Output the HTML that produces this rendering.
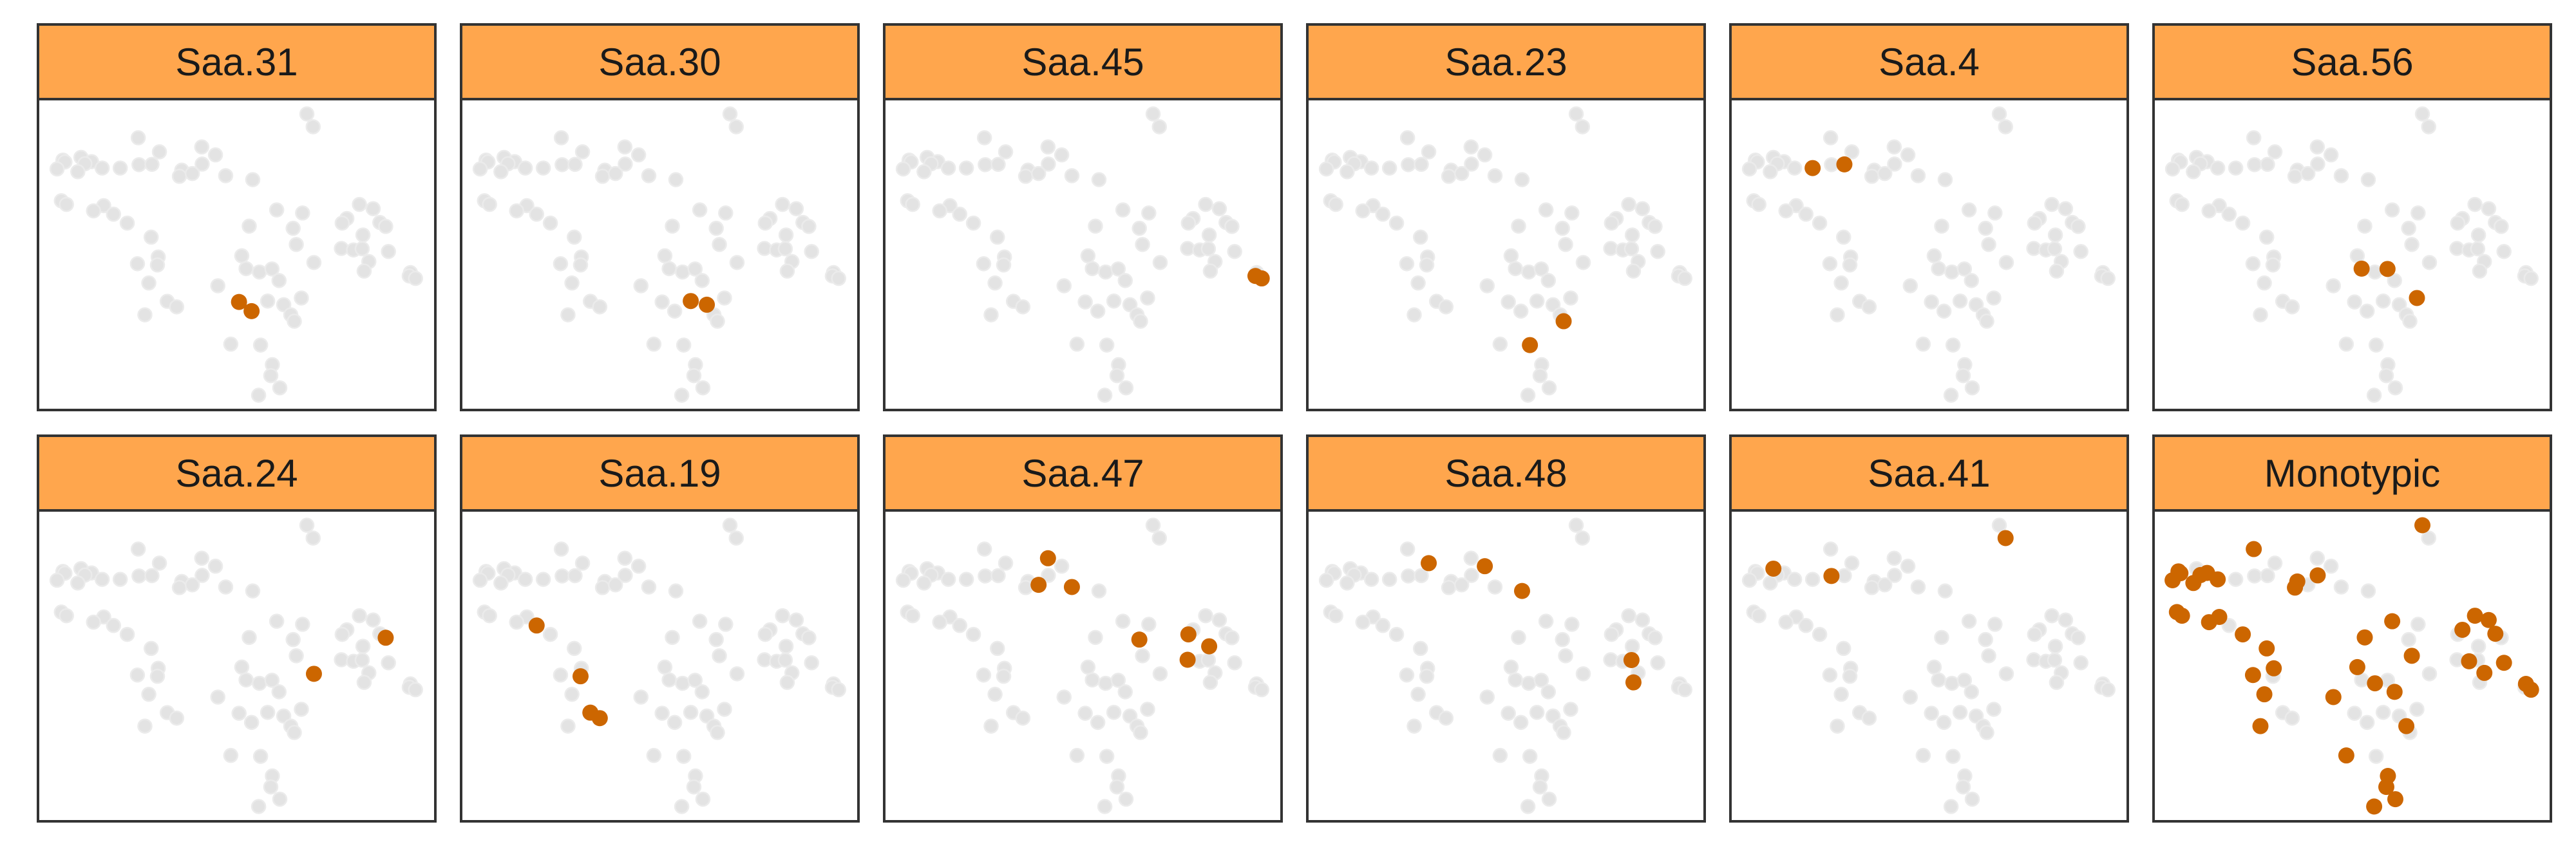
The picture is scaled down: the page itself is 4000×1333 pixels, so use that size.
<!DOCTYPE html>
<html><head><meta charset="utf-8"><style>
html,body{margin:0;padding:0;background:#fff;}
svg{display:block;}
</style></head><body>
<svg id="chart" width="4000" height="1333" viewBox="0 0 4000 1333" xmlns="http://www.w3.org/2000/svg">
<rect x="0" y="0" width="4000" height="1333" fill="#fff"/>
</svg>
<script>
// All embedding coordinates (normalized 0-100 units), index 0..77
const pointX = [67.9,69.5,24.9,30.3,41.1,44.6,5.7,6.2,10.3,13.0,11.3,4.2,9.5,15.7,20.3,25.1,28.4,36.0,35.4,38.7,41.2,47.2,54.1,5.3,6.6,16.1,13.5,18.6,22.1,60.2,66.8,53.2,64.4,65.2,28.2,30.0,29.8,24.7,27.6,51.3,52.4,55.8,59.0,60.8,69.7,45.2,32.3,34.7,26.6,57.9,62.0,66.5,63.8,64.7,48.5,56.1,59.1,58.7,61.0,55.6,81.3,84.8,78.1,76.9,86.5,88.0,82.2,76.7,79.8,82.0,88.7,83.7,82.5,94.3,94.0,95.6,50.6,53.8];
const pointY = [4.0,8.2,11.8,16.4,14.8,17.4,19.1,19.7,18.2,19.6,20.3,22.0,22.9,21.7,21.7,20.6,20.5,22.4,24.4,23.5,20.4,24.2,25.5,32.4,33.6,34.0,35.7,36.8,39.7,35.4,36.4,40.7,41.4,46.7,44.3,50.8,53.4,53.0,59.3,50.4,54.6,55.7,54.7,58.5,52.6,60.2,65.3,67.1,69.7,65.2,66.4,64.2,69.7,71.8,79.3,79.6,86.0,89.6,93.6,96.0,33.6,35.0,38.2,39.7,39.5,40.8,43.6,48.0,48.5,48.1,49.0,52.3,55.4,55.9,57.0,57.8,65.5,68.5];
const panelNames = ["Saa.31","Saa.30","Saa.45","Saa.23","Saa.4","Saa.56","Saa.24","Saa.19","Saa.47","Saa.48","Saa.41","Monotypic"];
// highlighted point indices (1-based) per panel
const highlights = [
  [77,78],
  [50,51],
  [75,76],
  [54,56],
  [15,17],
  [41,43,52],
  [66,45],
  [28,37,47,48],
  [5,20,22,33,64,67,68],
  [4,6,23,70,73],
  [9,16,2],
  [7,8,12,13,11,10,14,3,18,19,21,24,25,27,26,29,35,36,38,39,49,46,55,32,30,34,40,42,44,53,1,57,58,59,60,63,61,62,65,69,72,71,74,76]
];

const NS = "http://www.w3.org/2000/svg";
const svg = document.getElementById("chart");
const colLeft = [59,716,1373,2030,2687,3344];
const panelW = 617;
const rowTop = [38,677];
const stripH = 116;
const plotH = 483;
function el(tag, attrs, parent){
  const e = document.createElementNS(NS, tag);
  for (const k in attrs) e.setAttribute(k, attrs[k]);
  parent.appendChild(e);
  return e;
}
panelNames.forEach((name, p) => {
  const c = p % 6, r = Math.floor(p / 6);
  const L = colLeft[c], T = rowTop[r];
  const g = el("g", {}, svg);
  
  
  const strip = el("rect", {x:L, y:T, width:panelW, height:stripH, fill:"#FFA64D", stroke:"#333333", "stroke-width":4}, g);
  
  
  const t = el("text", {x:L+panelW/2, y:T+stripH/2+21, "text-anchor":"middle", "font-family":"Liberation Sans, sans-serif", "font-size":60, fill:"#1a1a1a"}, g);
  t.textContent = name;
  
  
  const PT = T + stripH;
  const plot = el("rect", {x:L, y:PT, width:panelW, height:plotH, fill:"#fff", stroke:"#333333", "stroke-width":4}, g);
  
  
  const sx = v => L + 4 + v/100*(panelW-8);
  const sy = v => PT + 4 + v/100*(plotH-8);
  pointX.forEach((xv, i) => {
    const d = el("circle", {cx:sx(xv), cy:sy(pointY[i]), r:10.5, fill:"#e3e3e3", stroke:"#ebebeb", "stroke-width":2.5}, g);
    
    
  });
  highlights[p].forEach(idx => {
    const i = idx - 1;
    const d = el("circle", {cx:sx(pointX[i]), cy:sy(pointY[i]), r:12.5, fill:"#CC6600"}, g);
    
    
  });
});
</script>
</body></html>
